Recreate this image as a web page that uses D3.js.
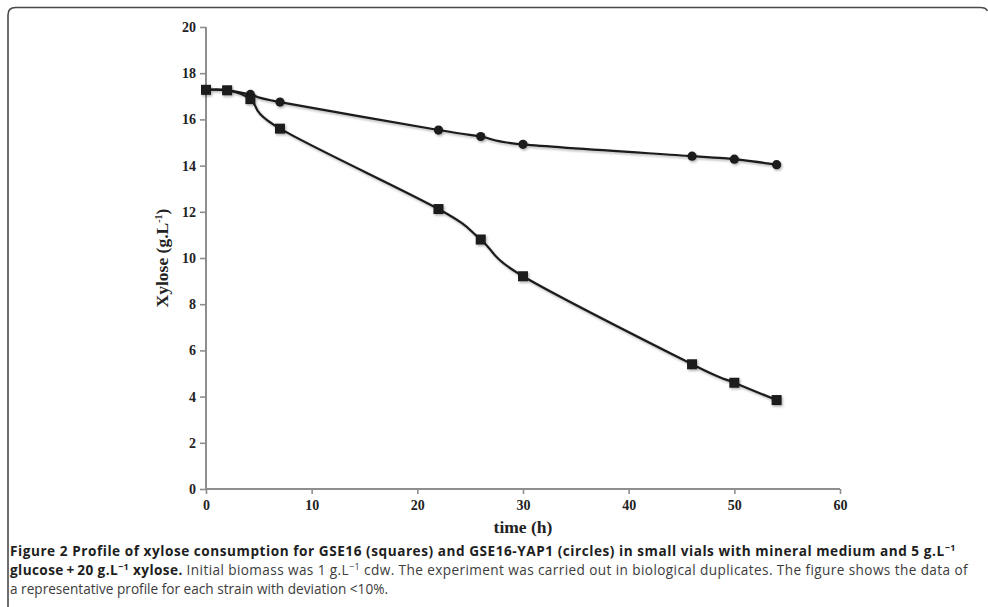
<!DOCTYPE html>
<html>
<head>
<meta charset="utf-8">
<script src="https://cdn.jsdelivr.net/npm/d3@7"></script>
<style>
  html, body { margin: 0; padding: 0; background: #fff; }
  svg { display: block; }
</style>
</head>
<body>
<svg id="chart" width="988" height="607"></svg>
<script>
// Sampling times (h)
const timesGSE16 = [0, 2, 4.2, 7, 22, 26, 30, 46, 50, 54];
const xyloseGSE16 = [17.28, 17.26, 16.88, 15.6, 12.12, 10.8, 9.21, 5.4, 4.6, 3.85];

const timesYAP1 = [0, 2, 4.2, 7, 22, 26, 30, 46, 50, 54];
const xyloseYAP1 = [17.28, 17.26, 17.08, 16.75, 15.54, 15.26, 14.92, 14.41, 14.28, 14.04];

const xTicks = [0, 10, 20, 30, 40, 50, 60];
const yTicks = [0, 2, 4, 6, 8, 10, 12, 14, 16, 18, 20];

const svg = d3.select("#chart");

// panel frame (top / left edges with rounded corners)
svg.append("path")
  .attr("d", "M8,607 L8,15 Q8,7.5 15.5,7.5 L980,7.5 Q986,7.5 987.5,11")
  .attr("fill", "none")
  .attr("stroke", "#4a4a4a")
  .attr("stroke-width", 1.6);

const x = d3.scaleLinear().domain([0, 60]).range([206, 840]);
const y = d3.scaleLinear().domain([0, 20]).range([489, 27]);

const defs = svg.append("defs");
const sh = defs.append("filter").attr("id", "shadow")
  .attr("x", "-20%").attr("y", "-20%").attr("width", "140%").attr("height", "140%");
sh.append("feDropShadow")
  .attr("dx", 1.2).attr("dy", 1.6).attr("stdDeviation", 1.1)
  .attr("flood-color", "#000").attr("flood-opacity", 0.3);

const axisColor = "#8e8e8e";
const tickFont = "'Liberation Serif', 'Times New Roman', serif";

// y axis
const yAxis = svg.append("g")
  .attr("transform", `translate(${x(0)},0)`)
  .call(d3.axisLeft(y).tickValues(yTicks).tickSize(6).tickPadding(4).tickFormat(d3.format("d")));
yAxis.select(".domain").attr("stroke", axisColor).attr("stroke-width", 2).attr("d", `M0,${y(20)}V${y(0)}`);
yAxis.selectAll(".tick line").attr("stroke", axisColor).attr("stroke-width", 1.6);
yAxis.selectAll(".tick text")
  .attr("font-family", tickFont).attr("font-weight", "bold")
  .attr("font-size", 14).attr("fill", "#222");

// x axis
const xAxis = svg.append("g")
  .attr("transform", `translate(0,${y(0)})`)
  .call(d3.axisBottom(x).tickValues(xTicks).tickSize(5).tickPadding(6).tickFormat(d3.format("d")));
xAxis.select(".domain").attr("stroke", axisColor).attr("stroke-width", 2).attr("d", `M${x(0)},0H${x(60)}`);
xAxis.selectAll(".tick line").attr("stroke", axisColor).attr("stroke-width", 1.6);
xAxis.selectAll(".tick text")
  .attr("font-family", tickFont).attr("font-weight", "bold")
  .attr("font-size", 14).attr("fill", "#222");

// axis titles
svg.append("text")
  .attr("x", 523).attr("y", 533)
  .attr("text-anchor", "middle")
  .attr("font-family", tickFont).attr("font-weight", "bold")
  .attr("font-size", 17.5).attr("fill", "#222")
  .text("time (h)");

const yTitle = svg.append("text")
  .attr("transform", "translate(168,258) rotate(-90)")
  .attr("text-anchor", "middle")
  .attr("font-family", tickFont).attr("font-weight", "bold")
  .attr("font-size", 17.5).attr("fill", "#222");
yTitle.append("tspan").text("Xylose (g.L");
yTitle.append("tspan").attr("font-size", 10).attr("dy", -6).text("-1");
yTitle.append("tspan").attr("dy", 6).text(")");

// series
const line = d3.line()
  .x(d => x(d[0]))
  .y(d => y(d[1]))
  .curve(d3.curveCardinal.tension(0));

const yap1 = timesYAP1.map((t, i) => [t, xyloseYAP1[i]]);
const gse16 = timesGSE16.map((t, i) => [t, xyloseGSE16[i]]);

const plot = svg.append("g").attr("filter", "url(#shadow)");

plot.append("path").datum(yap1)
  .attr("d", line).attr("fill", "none")
  .attr("stroke", "#1a1a1a").attr("stroke-width", 2.2);
plot.selectAll("circle.yap").data(yap1).join("circle")
  .attr("class", "yap")
  .attr("cx", d => x(d[0])).attr("cy", d => y(d[1]))
  .attr("r", 4.6).attr("fill", "#1a1a1a");

plot.append("path").datum(gse16)
  .attr("d", line).attr("fill", "none")
  .attr("stroke", "#1a1a1a").attr("stroke-width", 2.2);
const sq = 10;
plot.selectAll("rect.gse").data(gse16).join("rect")
  .attr("class", "gse")
  .attr("x", d => x(d[0]) - sq / 2).attr("y", d => y(d[1]) - sq / 2)
  .attr("width", sq).attr("height", sq).attr("fill", "#1a1a1a");

// caption
const capFont = "'Open Sans', 'Noto Sans', sans-serif";
const capSize = 13.6;
const capLines = [
  { y: 556, target: 946, parts: [
    { t: "Figure 2 Profile of xylose consumption for GSE16 (squares) and GSE16-YAP1 (circles) in small vials with mineral medium and 5 g.L", b: true },
    { t: "\u22121", b: true, sup: true }
  ]},
  { y: 575, target: 958, parts: [
    { t: "glucose\u2009+\u200920 g.L", b: true },
    { t: "\u22121", b: true, sup: true },
    { t: " xylose.", b: true },
    { t: " Initial biomass was 1 g.L", b: false },
    { t: "\u22121", b: false, sup: true },
    { t: " cdw. The experiment was carried out in biological duplicates. The figure shows the data of", b: false }
  ]},
  { y: 594, target: 378, parts: [
    { t: "a representative profile for each strain with deviation <10%.", b: false }
  ]}
];

capLines.forEach(ln => {
  const tx = svg.append("text")
    .attr("x", 10).attr("y", ln.y)
    .attr("font-family", capFont).attr("font-size", capSize);
  let raised = false;
  ln.parts.forEach(p => {
    const ts = tx.append("tspan")
      .attr("font-weight", p.b ? "bold" : "normal")
      .attr("fill", p.b ? "#1e1e1e" : "#3c3c3c")
      .text(p.t);
    if (p.sup) {
      ts.attr("font-size", 9).attr("dy", -5.5);
      raised = true;
    } else if (raised) {
      ts.attr("dy", 5.5);
      raised = false;
    }
  });
  const n = ln.parts.reduce((s, p) => s + p.t.length, 0);
  const w = tx.node().getComputedTextLength();
  tx.attr("letter-spacing", (ln.target - w) / n);
});
</script>
</body>
</html>
